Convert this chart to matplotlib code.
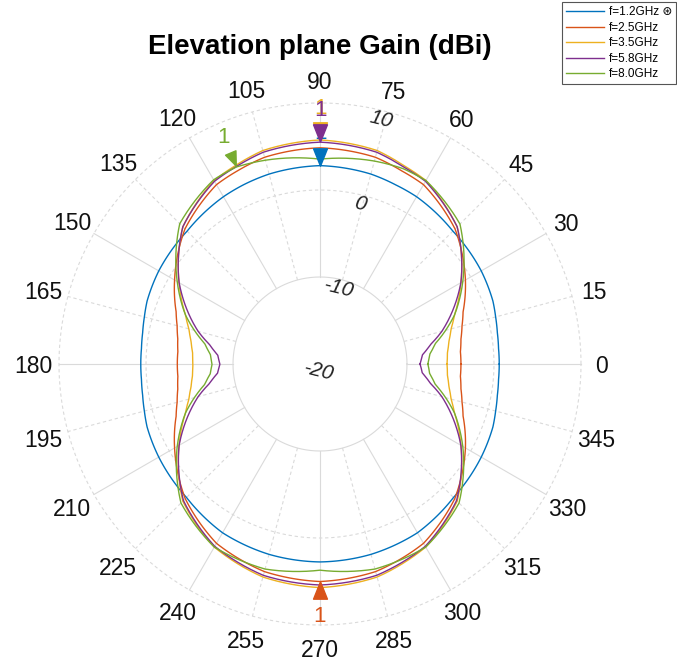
import numpy as np
import matplotlib
matplotlib.use("Agg")
import matplotlib.pyplot as plt
from matplotlib.path import Path
from matplotlib.transforms import ScaledTranslation

plt.rcParams['font.family'] = ['Liberation Sans', 'DejaVu Sans']

# ---------------- data ----------------
ANGLES = [0, 5, 10, 15, 20, 30, 45, 60, 67, 75, 90, 105, 113, 120, 135, 150, 160, 165, 170, 175,
          180, 185, 190, 195, 200, 210, 225, 240, 255, 270, 285, 300, 315, 330, 340, 345, 350, 355, 360]

LABELS = ["f=1.2GHz \u229b", "f=2.5GHz", "f=3.5GHz", "f=5.8GHz", "f=8.0GHz"]
COLORS = ["#0072BD", "#D95319", "#EDB120", "#7E2F8E", "#77AC30"]

GAIN_12 = [0.6, 0.6, 0.7, 0.9, 1.15, 1.4, 1.6, 2.2, 2.35, 2.6, 2.8, 2.6, 2.4, 2.2, 1.6, 1.4, 1.15, 0.9, 0.7, 0.6,
           0.6, 0.6, 0.7, 0.9, 1.15, 1.4, 1.7, 2.4, 2.65, 2.75, 2.65, 2.4, 1.7, 1.4, 1.15, 0.9, 0.7, 0.6, 0.6]
GAIN_25 = [-3.8, -3.8, -3.55, -3.1, -2.5, -0.7, 1.95, 3.8, 4.1, 4.6, 4.85, 4.6, 4.15, 3.8, 1.95, -0.7, -2.4, -3.0, -3.4, -3.6,
           -3.6, -3.6, -3.4, -3.0, -2.4, -0.7, 1.9, 3.8, 4.7, 5.0, 4.7, 3.8, 1.9, -0.7, -2.5, -3.1, -3.55, -3.8, -3.8]
GAIN_35 = [-5.4, -5.3, -4.95, -4.4, -3.55, -1.3, 2.3, 4.35, 4.75, 5.4, 5.75, 5.4, 4.8, 4.35, 2.3, -1.3, -3.55, -4.4, -4.95, -5.3,
           -5.4, -5.3, -4.95, -4.4, -3.55, -1.3, 2.3, 4.3, 5.35, 5.7, 5.35, 4.3, 2.3, -1.3, -3.55, -4.4, -4.95, -5.3, -5.4]
GAIN_58 = [-8.5, -8.2, -7.1, -5.5, -4.1, -1.3, 2.3, 4.25, 4.6, 5.2, 5.5, 5.2, 4.65, 4.25, 2.3, -1.3, -4.1, -5.5, -7.1, -8.2,
           -8.5, -8.2, -7.1, -5.5, -4.1, -1.3, 2.2, 4.2, 5.15, 5.4, 5.15, 4.2, 2.2, -1.3, -4.1, -5.5, -7.1, -8.2, -8.5]
GAIN_80 = [-7.6, -7.35, -6.55, -5.05, -3.55, -1.05, 2.75, 4.35, 4.4, 4.15, 3.55, 4.25, 4.6, 4.45, 2.8, -1.05, -3.55, -5.05, -6.55, -7.35,
           -7.6, -7.35, -6.55, -5.05, -3.55, -1.05, 2.6, 4.3, 4.4, 3.7, 4.4, 4.3, 2.6, -1.05, -3.55, -5.05, -6.55, -7.35, -7.6]
SERIES = [GAIN_12, GAIN_25, GAIN_35, GAIN_58, GAIN_80]

ANGLE_TICKS = list(range(0, 360, 15))
RADIAL_TICKS = [-20, -10, 0, 10]
TITLE = "Elevation plane Gain (dBi)"

# ---------------- figure ----------------
W, H = 677, 663
fig = plt.figure(figsize=(W / 100, H / 100), dpi=100)
cx, cy, R = 320, 364, 261
ax = fig.add_axes([(cx - R) / W, (H - cy - R) / H, 2 * R / W, 2 * R / H], projection='polar')
rmin, rmax = RADIAL_TICKS[0], RADIAL_TICKS[-1]
ax.set_ylim(rmin, rmax)
ax.set_xticks([])
ax.set_yticks([])
ax.grid(False)
ax.spines['polar'].set_visible(False)
ax.patch.set_alpha(0)

gcol = "#dadada"
tt = np.linspace(0, 2 * np.pi, 721)
for rv in RADIAL_TICKS[1:]:
    ls = '-' if rv == -10 else (0, (3, 2.5))
    ax.plot(tt, np.full_like(tt, rv), color=gcol, lw=0.8, ls=ls, zorder=1, clip_on=False)
for a in ANGLE_TICKS:
    ls = '-' if a % 30 == 0 else (0, (3, 2.5))
    ax.plot([np.deg2rad(a)] * 2, [-10, rmax], color=gcol, lw=0.8, ls=ls, zorder=1, clip_on=False)

# angle labels (nudged down a few pixels)
down = ScaledTranslation(0, -2.5 / 100, fig.dpi_scale_trans)
for a in ANGLE_TICKS:
    extra = 0.25 * (len(str(a)) - 2) * abs(np.cos(np.deg2rad(a)))
    ax.text(np.deg2rad(a), rmax + 2.65 + extra, str(a), ha='center', va='center', fontsize=16.5,
            clip_on=False, color='#111111', transform=ax.transData + down)

# radial labels
for rv in RADIAL_TICKS:
    if rv == rmin:
        ax.text(np.deg2rad(262), rmin + 0.9, str(rv), ha='center', va='center', fontsize=15,
                style='italic', rotation=-14, color='#222222')
    else:
        ax.text(np.deg2rad(76), rv - 1.0, str(rv), ha='center', va='center', fontsize=15,
                style='italic', rotation=-14, color='#222222', clip_on=False)

th = np.deg2rad(ANGLES)
handles = []
for vals, c, lab in zip(SERIES, COLORS, LABELS):
    ln, = ax.plot(th, vals, color=c, lw=1.0, zorder=3, clip_on=False)
    ln.get_path()._interpolation_steps = 40
    handles.append(ln)

# peak markers
ms = 12.5
base = np.array([[-0.8, 1.0], [0.8, 1.0], [0.0, -1.0], [-0.8, 1.0]])
for vals, c in zip(SERIES, COLORS):
    i = int(np.argmax(vals))
    ang = ANGLES[i]
    rot = np.deg2rad(ang - 90)
    rm = np.array([[np.cos(rot), -np.sin(rot)], [np.sin(rot), np.cos(rot)]])
    verts = base @ rm.T
    mk = Path(verts, [Path.MOVETO, Path.LINETO, Path.LINETO, Path.CLOSEPOLY])
    d = 0.5 * ms / 72
    off = ScaledTranslation(np.cos(np.deg2rad(ang)) * d, np.sin(np.deg2rad(ang)) * d, fig.dpi_scale_trans)
    ax.plot([np.deg2rad(ang)], [vals[i]], marker=mk, ms=ms, color=c, mec=c, ls='none',
            transform=ax.transData + off, zorder=5, clip_on=False)
    d2 = 24 / 72
    off2 = ScaledTranslation(np.cos(np.deg2rad(ang)) * d2, np.sin(np.deg2rad(ang)) * d2 - 0.015,
                             fig.dpi_scale_trans)
    ax.text(np.deg2rad(ang), vals[i], "1", color=c, fontsize=16, ha='center', va='center',
            transform=ax.transData + off2, zorder=5, clip_on=False)

fig.text(cx / W, 1 - 47 / H, TITLE, ha='center', va='center', fontsize=20, fontweight='bold')

leg = fig.legend(handles, LABELS, loc='upper right', bbox_to_anchor=(676 / W, 661 / H),
                 fontsize=8.5, frameon=True, fancybox=False, handlelength=3.2, handletextpad=0.4,
                 borderpad=0.35, labelspacing=0.3, borderaxespad=0, framealpha=1)
leg.get_frame().set_edgecolor('#555555')
leg.get_frame().set_linewidth(0.8)

fig.savefig("out.png", dpi=100)
